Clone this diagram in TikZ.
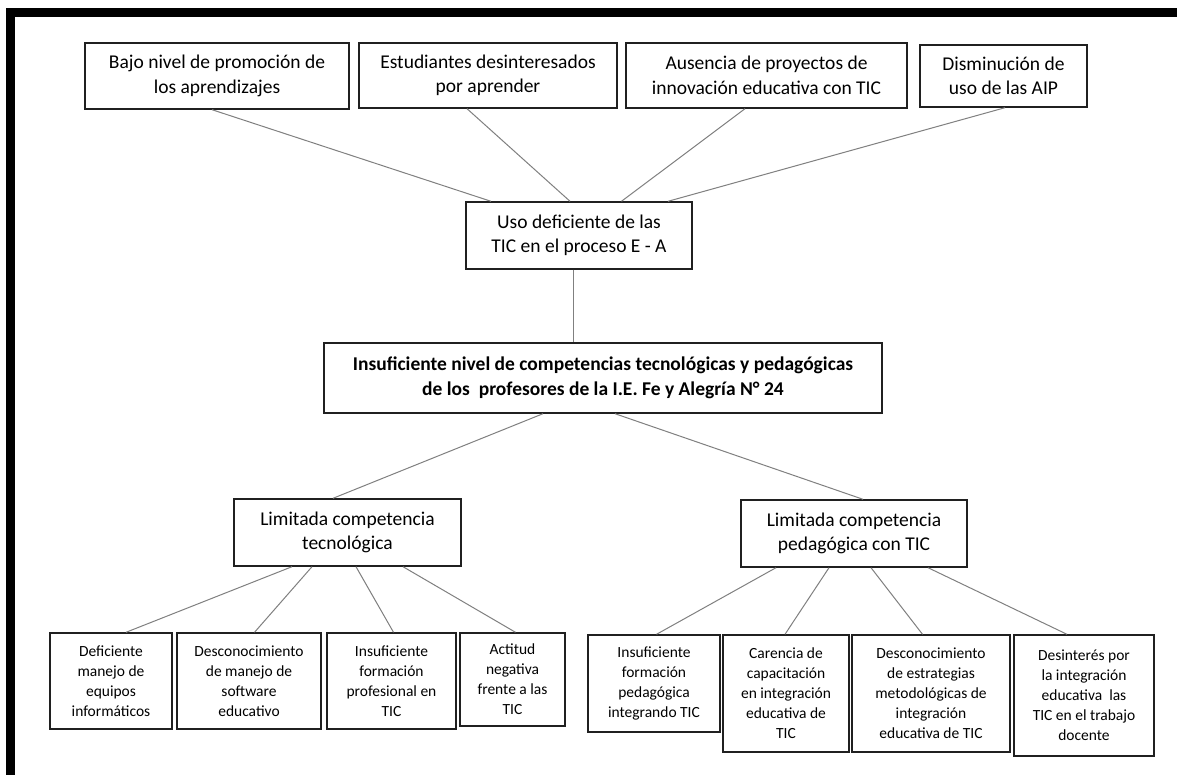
\documentclass[tikz,border=0pt]{standalone}
\usepackage{fontspec}
\setmainfont{Carlito}
\newcommand\txtL{\fontsize{19.5}{24.5}\selectfont}
\newcommand\txtS{\fontsize{15.5}{20}\selectfont}
\definecolor{boxc}{HTML}{202020}
\definecolor{linec}{HTML}{808080}
\tikzset{
  box/.style={draw=boxc, line width=1.4pt, inner sep=0pt, align=center, fill=white},
  big/.style={box, font=\txtL},
  small/.style={box, font=\txtS},
  conn/.style={draw=linec, line width=1pt},
}
\begin{document}
\begin{tikzpicture}[x=1pt,y=-1pt]
\useasboundingbox (0,0) rectangle (1177,775);
\fill[white] (0,0) rectangle (1177,775);
% frame (cropped: top and left only)
\fill[black] (6,8) rectangle (1177,17);
\fill[black] (6,8) rectangle (15,775);

% top row
\node[big, minimum width=264pt, minimum height=66pt] (b1) at (217,76) {Bajo nivel de promoción de\\los aprendizajes};
\node[big, minimum width=258pt, minimum height=65pt] (b2) at (488,75.5) {Estudiantes desinteresados\\por aprender};
\node[big, minimum width=281pt, minimum height=65pt] (b3) at (766.5,75.5) {Ausencia de proyectos de\\innovación educativa con TIC};
\node[big, minimum width=167pt, minimum height=62pt] (b4) at (1003.5,76) {Disminución de\\uso de las AIP};

\node[big, minimum width=226pt, minimum height=67pt] (uso) at (579,235.5) {Uso deficiente de las\\TIC en el proceso E - A};

\node[big, font=\txtL\bfseries, minimum width=558pt, minimum height=70pt] (main) at (603,378) {Insuficiente nivel de competencias tecnológicas y pedagógicas\\de los\ \ profesores de la I.E. Fe y Alegría N° 24};

\node[big, minimum width=227pt, minimum height=67pt] (lt) at (347.5,532.5) {Limitada competencia\\tecnológica};
\node[big, minimum width=226pt, minimum height=67pt] (lp) at (854,533.5) {Limitada competencia\\pedagógica con TIC};

% bottom row
\node[small, minimum width=122pt, minimum height=96pt] (d1) at (111,681) {Deficiente\\manejo de\\equipos\\informáticos};
\node[small, minimum width=144pt, minimum height=96pt] (d2) at (249,681) {Desconocimiento\\de manejo de\\software\\educativo};
\node[small, minimum width=129pt, minimum height=96pt] (d3) at (391.5,681) {Insuficiente\\formación\\profesional en\\TIC};
\node[small, minimum width=105pt, minimum height=93pt] (d4) at (512.5,679.5) {Actitud\\negativa\\frente a las\\TIC};

\node[small, minimum width=132pt, minimum height=97pt] (p1) at (654,683.5) {Insuficiente\\formación\\pedagógica\\integrando TIC};
\node[small, minimum width=126pt, minimum height=117pt] (p2) at (786,693.5) {Carencia de\\capacitación\\en integración\\educativa de\\TIC};
\node[small, minimum width=158pt, minimum height=117pt] (p3) at (931,693.5) {Desconocimiento\\de estrategias\\metodológicas de\\integración\\educativa de TIC};
\node[small, minimum width=140pt, minimum height=121pt] (p4) at (1084,695.5) {Desinterés por\\la integración\\educativa\ \ las\\TIC en el trabajo\\docente};

% connectors
\begin{scope}[on background layer/.try]
\end{scope}
\draw[conn] ([xshift=-5pt]b1.south) -- ([xshift=-88pt]uso.north);
\draw[conn] ([xshift=-21pt]b2.south) -- ([xshift=-9pt]uso.north);
\draw[conn] ([xshift=-21.5pt]b3.south) -- ([xshift=42.5pt]uso.north);
\draw[conn] ([xshift=1.5pt]b4.south) -- ([xshift=89pt]uso.north);

\draw[conn] ([xshift=-6pt]uso.south) -- ([xshift=-30pt]main.north);

\draw[conn] ([xshift=-60pt]main.south) -- ([xshift=-14.5pt]lt.north);
\draw[conn] ([xshift=12pt]main.south) -- ([xshift=9pt]lp.north);

\draw[conn] ([xshift=-55.5pt]lt.south) -- ([xshift=15pt]d1.north);
\draw[conn] ([xshift=-35.5pt]lt.south) -- ([xshift=5.5pt]d2.north);
\draw[conn] ([xshift=8.5pt]lt.south) -- ([xshift=2pt]d3.north);
\draw[conn] ([xshift=55.5pt]lt.south) -- ([xshift=3pt]d4.north);

\draw[conn] ([xshift=-78pt]lp.south) -- ([xshift=2.5pt]p1.north);
\draw[conn] ([xshift=-25pt]lp.south) -- ([xshift=-1pt]p2.north);
\draw[conn] ([xshift=17pt]lp.south) -- ([xshift=-8.5pt]p3.north);
\draw[conn] ([xshift=74pt]lp.south) -- ([xshift=-17pt]p4.north);
\end{tikzpicture}
\end{document}
